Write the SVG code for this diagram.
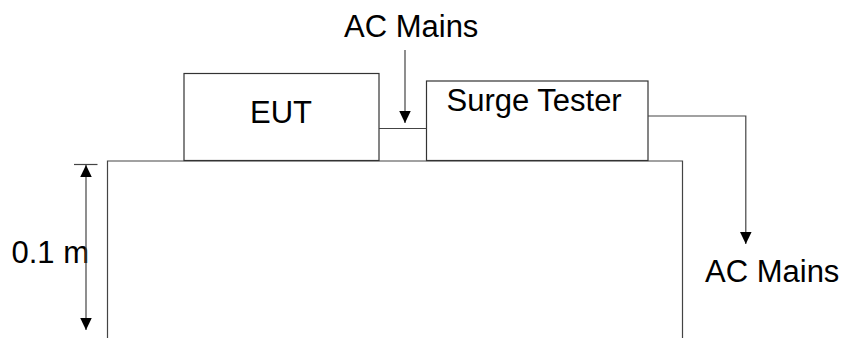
<svg xmlns="http://www.w3.org/2000/svg" width="842" height="338" viewBox="0 0 842 338">
  <style>
    .box { fill: #ffffff; stroke: #333333; stroke-width: 1.2; }
    .ln { fill: none; stroke: #444444; stroke-width: 1.2; }
    .t { font-family: "Liberation Sans", Arial, sans-serif; font-size: 31px; fill: #000000; }
  </style>
  <defs>
    <marker id="arr" markerUnits="userSpaceOnUse" markerWidth="12" markerHeight="12" viewBox="0 0 10 10" refX="10" refY="5" orient="auto">
      <path d="M0,0.2 L10,5 L0,9.8 Z" fill="#000000"/>
    </marker>
  </defs>
  <rect width="842" height="338" fill="#ffffff"/>
  <g id="table">
    <path class="ln" d="M107.5,338 V161 H682.5 V338" stroke="#222222"/>
  </g>
  <g id="eut">
    <rect class="box" x="184" y="73.5" width="195" height="87"/>
    <text class="t" x="250" y="122.5">EUT</text>
  </g>
  <g id="surge-tester">
    <rect class="box" x="426.5" y="81" width="221.5" height="79.5"/>
    <text class="t" x="446.5" y="111">Surge Tester</text>
  </g>
  <g id="label-ac-top">
    <text class="t" x="344" y="37">AC Mains</text>
  </g>
  <g id="label-ac-right">
    <text class="t" x="705" y="282">AC Mains</text>
  </g>
  <g id="label-height">
    <text class="t" x="11.5" y="263">0.1 m</text>
  </g>
  <g id="connectors">
    <line class="ln" x1="379" y1="128.5" x2="426.5" y2="128.5"/>
    <line class="ln" x1="405" y1="50" x2="405" y2="123" marker-end="url(#arr)"/>
    <path class="ln" d="M648,116 H745.8 V244" marker-end="url(#arr)"/>
    <line class="ln" x1="74" y1="164.5" x2="97.5" y2="164.5"/>
    <line class="ln" x1="86" y1="243" x2="86" y2="165" marker-end="url(#arr)"/>
    <line class="ln" x1="86" y1="243" x2="86" y2="330" marker-end="url(#arr)"/>
  </g>
</svg>
